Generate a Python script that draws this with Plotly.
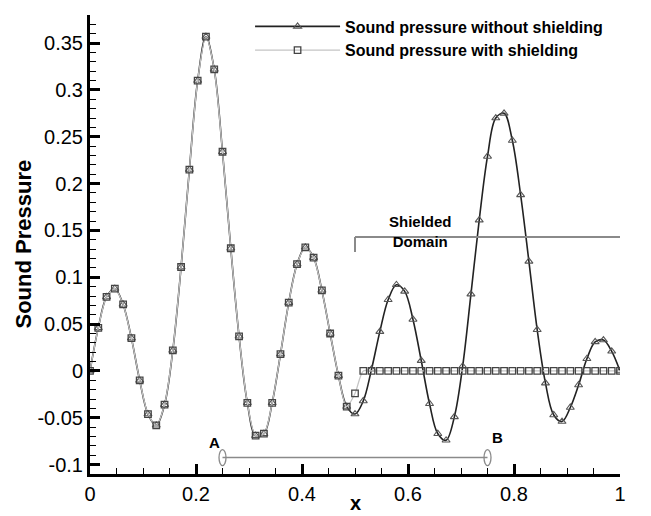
import plotly.graph_objects as go

# Sample positions along the line (65 evenly spaced stations on [0, 1])
x = [i / 64 for i in range(65)]

# Sound pressure without the shield
p_unshielded = [
    0.000, 0.046, 0.079, 0.088, 0.071, 0.035, -0.010, -0.046, -0.058, -0.036,
    0.022, 0.111, 0.215, 0.310, 0.357, 0.322, 0.234, 0.131, 0.037, -0.034,
    -0.069, -0.067, -0.034, 0.018, 0.073, 0.114, 0.132, 0.121, 0.086, 0.040,
    -0.005, -0.038, -0.046, -0.032, 0.002, 0.042, 0.076, 0.092, 0.085, 0.055,
    0.011, -0.035, -0.067, -0.074, -0.049, 0.005, 0.082, 0.161, 0.229, 0.270,
    0.275, 0.246, 0.188, 0.117, 0.044, -0.013, -0.047, -0.054, -0.039, -0.015,
    0.013, 0.031, 0.033, 0.021, 0.000,
]

# Sound pressure with the shield (zero inside the shielded domain)
p_shielded = [
    0.000, 0.046, 0.079, 0.088, 0.071, 0.035, -0.010, -0.046, -0.058, -0.036,
    0.022, 0.111, 0.215, 0.310, 0.357, 0.322, 0.234, 0.131, 0.037, -0.034,
    -0.069, -0.067, -0.034, 0.018, 0.073, 0.114, 0.132, 0.121, 0.086, 0.040,
    -0.005, -0.038, -0.024, 0.000, 0.000, 0.000, 0.000, 0.000, 0.000, 0.000,
    0.000, 0.000, 0.000, 0.000, 0.000, 0.000, 0.000, 0.000, 0.000, 0.000,
    0.000, 0.000, 0.000, 0.000, 0.000, 0.000, 0.000, 0.000, 0.000, 0.000,
    0.000, 0.000, 0.000, 0.000, 0.000,
]

series_names = ["Sound pressure without shielding", "Sound pressure with shielding"]

y_tickvals = [-0.1, -0.05, 0, 0.05, 0.1, 0.15, 0.2, 0.25, 0.3, 0.35]
y_ticktext = ["-0.1", "-0.05", "0", "0.05", "0.1", "0.15", "0.2", "0.25", "0.3", "0.35"]
x_tickvals = [0, 0.2, 0.4, 0.6, 0.8, 1]
x_ticktext = ["0", "0.2", "0.4", "0.6", "0.8", "1"]

# Shielded domain and the A-B segment
shield_start, shield_end, shield_level = 0.5, 1.0, 0.143
ab_start, ab_end, ab_level = 0.25, 0.75, -0.0925

FONT = "Liberation Sans, Arial, sans-serif"

fig = go.Figure()

fig.add_trace(go.Scatter(
    x=x, y=p_unshielded, name=series_names[0], mode="lines+markers",
    line=dict(color="#222222", width=1.6, shape="spline", smoothing=1.0),
    marker=dict(symbol="triangle-up-open", size=7, color="#555555",
                line=dict(width=1.1, color="#555555")),
))
fig.add_trace(go.Scatter(
    x=x, y=p_shielded, name=series_names[1], mode="lines+markers",
    line=dict(color="#c4c4c4", width=1.3, shape="spline", smoothing=0.8),
    marker=dict(symbol="square-open", size=6.5, color="#444444",
                line=dict(width=1.3, color="#444444")),
))

shapes = [
    # shielded-domain bracket
    dict(type="line", xref="x", yref="y", x0=shield_start, x1=shield_end,
         y0=shield_level, y1=shield_level, line=dict(color="#8a8a8a", width=2)),
    dict(type="line", xref="x", yref="y", x0=shield_start, x1=shield_start,
         y0=shield_level, y1=shield_level - 0.016, line=dict(color="#8a8a8a", width=2)),
    # A-B segment with end rings
    dict(type="line", xref="x", yref="y", x0=ab_start, x1=ab_end,
         y0=ab_level, y1=ab_level, line=dict(color="#8a8a8a", width=1.5)),
]
for xe in (ab_start, ab_end):
    shapes.append(dict(
        type="circle", xref="x", yref="y", xsizemode="pixel", ysizemode="pixel",
        xanchor=xe, yanchor=ab_level, x0=-3.5, x1=3.5, y0=-8, y1=8,
        line=dict(color="#8a8a8a", width=1.3), fillcolor="rgba(0,0,0,0)",
    ))

annotations = [
    dict(x=0.623, y=shield_level + 0.006, xref="x", yref="y",
         text="<b>Shielded<br>Domain</b>", showarrow=False,
         font=dict(family=FONT, size=15, color="black"), align="center"),
    dict(x=ab_start - 0.016, y=ab_level + 0.016, xref="x", yref="y",
         text="<b>A</b>", showarrow=False, font=dict(family=FONT, size=15, color="black")),
    dict(x=ab_end + 0.019, y=ab_level + 0.021, xref="x", yref="y",
         text="<b>B</b>", showarrow=False, font=dict(family=FONT, size=15, color="black")),
    # axis titles
    dict(x=0.5, y=0, xref="paper", yref="paper", yshift=-41, yanchor="bottom",
         borderpad=0, text="<b>x</b>", showarrow=False,
         font=dict(family=FONT, size=20, color="black")),
    dict(x=0, y=0.5, xref="paper", yref="paper", xshift=-67, xanchor="center",
         yanchor="middle", text="<b>Sound Pressure</b>", showarrow=False, textangle=-90,
         font=dict(family=FONT, size=22, color="black")),
]

axis_common = dict(
    showgrid=False, zeroline=False, showline=True, linecolor="black", linewidth=3,
    ticks="inside", ticklen=10, tickwidth=3, tickcolor="black",
    tickfont=dict(family=FONT, size=20, color="black"),
    mirror=False,
)

fig.update_layout(
    width=651, height=516,
    margin=dict(l=90, r=31, t=9, b=42),
    plot_bgcolor="white", paper_bgcolor="white",
    font=dict(family=FONT, color="black"),
    xaxis=dict(range=[0, 1], tickmode="array", tickvals=x_tickvals, ticktext=x_ticktext,
               minor=dict(dtick=0.05, ticks="inside", ticklen=6, tickwidth=1.2,
                          tickcolor="black", showgrid=False),
               **axis_common),
    yaxis=dict(range=[-0.11, 0.38], tickmode="array", tickvals=y_tickvals, ticktext=y_ticktext,
               minor=dict(dtick=0.01, tick0=0, ticks="inside", ticklen=6, tickwidth=1.2,
                          tickcolor="black", showgrid=False),
               **axis_common),
    legend=dict(x=0.302, y=1.012, xanchor="left", yanchor="top", bgcolor="rgba(0,0,0,0)",
                itemwidth=85, tracegroupgap=0,
                font=dict(family=FONT, size=16, color="black", weight="bold")),
    shapes=shapes,
    annotations=annotations,
)

fig.write_html("out.html")
